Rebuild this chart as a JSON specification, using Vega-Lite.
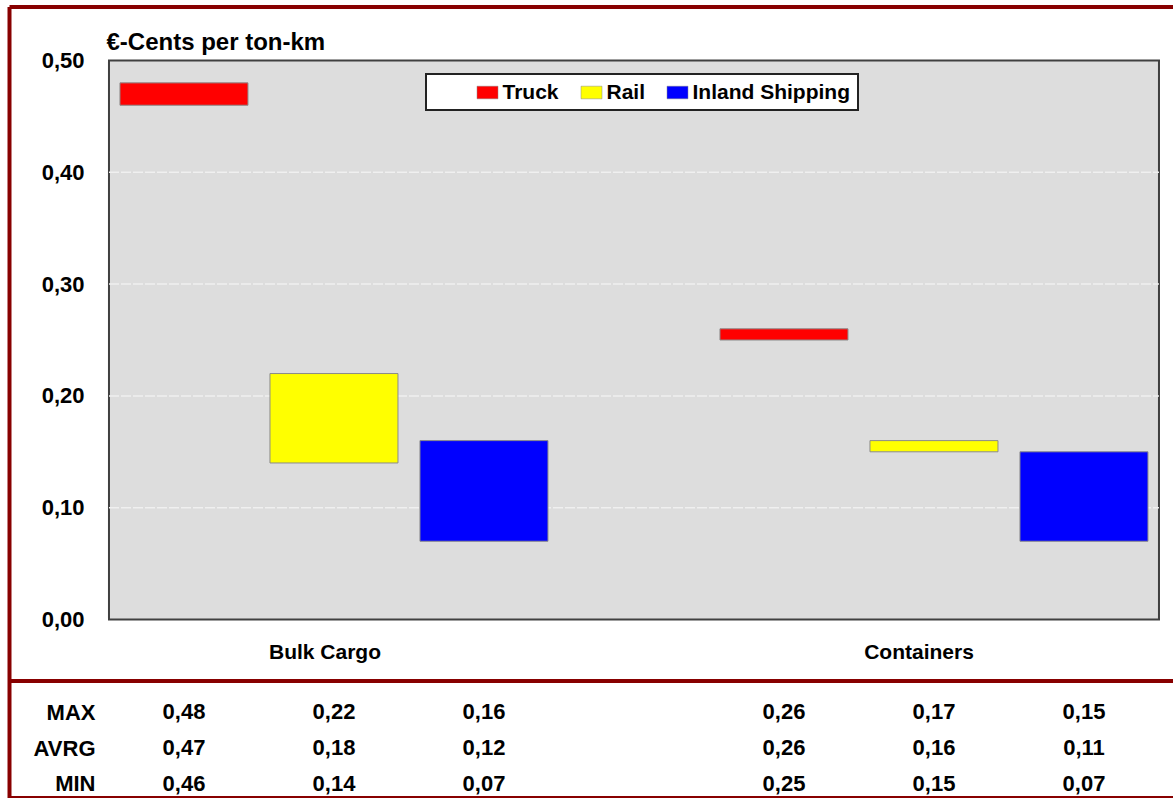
{
  "$schema": "https://vega.github.io/schema/vega-lite/v6.json",
  "background": "white",
  "padding": {"left": 9, "top": 6.5, "right": 0, "bottom": 0},
  "autosize": {"type": "pad"},
  "spacing": 0,
  "bounds": "flush",
  "config": {
    "view": {"stroke": null},
    "font": "Liberation Sans",
    "legend": {"strokeWidth": 2}
  },
  "datasets": {
    "costs": [
      {"cargo": "Bulk Cargo", "mode": "Truck", "bar_min": 0.46, "bar_max": 0.48, "MAX": 0.48, "AVRG": 0.47, "MIN": 0.46},
      {"cargo": "Bulk Cargo", "mode": "Rail", "bar_min": 0.14, "bar_max": 0.22, "MAX": 0.22, "AVRG": 0.18, "MIN": 0.14},
      {"cargo": "Bulk Cargo", "mode": "Inland Shipping", "bar_min": 0.07, "bar_max": 0.16, "MAX": 0.16, "AVRG": 0.12, "MIN": 0.07},
      {"cargo": "Containers", "mode": "Truck", "bar_min": 0.25, "bar_max": 0.26, "MAX": 0.26, "AVRG": 0.26, "MIN": 0.25},
      {"cargo": "Containers", "mode": "Rail", "bar_min": 0.15, "bar_max": 0.16, "MAX": 0.17, "AVRG": 0.16, "MIN": 0.15},
      {"cargo": "Containers", "mode": "Inland Shipping", "bar_min": 0.07, "bar_max": 0.15, "MAX": 0.15, "AVRG": 0.11, "MIN": 0.07}
    ]
  },
  "vconcat": [
    {
      "width": 1164,
      "height": 674,
      "resolve": {"axis": {"x": "independent"}},
      "layer": [
        {
          "data": {"values": [{}]},
          "mark": {"type": "rect", "fill": "#dddddd", "stroke": "#404040", "strokeWidth": 2},
          "encoding": {
            "x": {"datum": "Bulk Cargo", "type": "nominal", "bandPosition": 0,
              "scale": {"domain": ["Bulk Cargo", "Containers"], "paddingInner": 0.25, "paddingOuter": 0.095, "align": 0.877},
              "axis": {"orient": "top", "labels": false, "ticks": false, "title": null, "grid": false, "domainColor": "#880000", "domainWidth": 4}},
            "x2": {"datum": "Containers", "bandPosition": 1},
            "y": {"datum": 0, "type": "quantitative",
              "scale": {"domain": [-0.054562, 0.548301], "nice": false, "zero": false},
              "axis": {"values": [0, 0.1, 0.2, 0.3, 0.4, 0.5],
                "labelExpr": "replace(format(datum.value, '.2f'), '.', ',')",
                "labelFont": "Liberation Sans", "labelFontSize": 22, "labelFontWeight": "bold", "labelColor": "black",
                "labelPadding": -75, "ticks": false, "tickSize": 0, "grid": false,
                "domainColor": "#880000", "domainWidth": 4,
                "title": "€-Cents per ton-km", "titleAngle": 0, "titleAlign": "left", "titleBaseline": "alphabetic",
                "titleX": 97, "titleY": 43, "titleFont": "Liberation Sans", "titleFontSize": 24, "titleFontWeight": "bold", "titleColor": "black"}},
            "y2": {"datum": 0.5}
          }
        },
        {
          "data": {"values": [{"grid": 0.1}, {"grid": 0.2}, {"grid": 0.3}, {"grid": 0.4}]},
          "mark": {"type": "rule", "color": "#f0f0f0", "strokeWidth": 1.5, "strokeDash": [10, 2]},
          "encoding": {
            "x": {"datum": "Bulk Cargo", "type": "nominal", "bandPosition": 0,
              "scale": {"domain": ["Bulk Cargo", "Containers"], "paddingInner": 0.25, "paddingOuter": 0.095, "align": 0.877},
              "axis": null},
            "x2": {"datum": "Containers", "bandPosition": 1},
            "y": {"field": "grid", "type": "quantitative", "scale": {"domain": [-0.054562, 0.548301], "nice": false, "zero": false}}
          }
        },
        {
          "data": {"name": "costs"},
          "mark": {"type": "bar", "stroke": "#8a8a8a", "strokeWidth": 1},
          "encoding": {
            "x": {"field": "cargo", "type": "nominal",
              "scale": {"domain": ["Bulk Cargo", "Containers"], "paddingInner": 0.25, "paddingOuter": 0.095, "align": 0.877},
              "axis": {"orient": "bottom", "title": null, "ticks": false, "tickSize": 0, "grid": false,
                "domainColor": "#880000", "domainWidth": 4,
                "labelFont": "Liberation Sans", "labelFontSize": 21, "labelFontWeight": "bold", "labelColor": "black",
                "labelAngle": 0, "labelBaseline": "alphabetic", "labelPadding": -22,
                "labelOffset": {"condition": {"test": "datum.value === 'Bulk Cargo'", "value": -9}, "value": -15}}},
            "xOffset": {"field": "mode", "type": "nominal",
              "scale": {"domain": ["Truck", "Rail", "Inland Shipping"], "paddingInner": 0.14667, "paddingOuter": 0.07333}},
            "y": {"field": "bar_min", "type": "quantitative",
              "scale": {"domain": [-0.054562, 0.548301], "nice": false, "zero": false}},
            "y2": {"field": "bar_max"},
            "color": {"field": "mode", "type": "nominal",
              "scale": {"domain": ["Truck", "Rail", "Inland Shipping"], "range": ["#ff0000", "#ffff00", "#0000ff"]},
              "legend": {"orient": "none", "legendX": 417, "legendY": 67.5, "direction": "horizontal",
                "title": " ", "titleOrient": "left", "titlePadding": 43, "titleFontSize": 11,
                "padding": 7.5, "fillColor": "white", "strokeColor": "#222222",
                "symbolType": "M-1,-0.6H1V0.6H-1Z", "symbolSize": 441, "symbolStrokeWidth": 0.5, "symbolStrokeColor": "#888888",
                "labelFont": "Liberation Sans", "labelFontSize": 21, "labelFontWeight": "bold", "labelColor": "black",
                "labelOffset": 4, "columnPadding": 20, "labelLimit": 400}}
          }
        }
      ]
    },
    {
      "width": 1164,
      "height": 117,
      "data": {"name": "costs"},
      "transform": [{"fold": ["MAX", "AVRG", "MIN"], "as": ["stat", "value"]}],
      "mark": {"type": "text", "font": "Liberation Sans", "fontSize": 22, "fontWeight": "bold", "color": "black",
        "align": "center", "baseline": "middle",
        "text": {"expr": "replace(format(datum.value, '.2f'), '.', ',')"}},
      "encoding": {
        "x": {"field": "cargo", "type": "nominal",
          "scale": {"domain": ["Bulk Cargo", "Containers"], "paddingInner": 0.25, "paddingOuter": 0.095, "align": 0.877},
          "axis": {"orient": "bottom", "labels": false, "ticks": false, "title": null, "grid": false, "domainColor": "#880000", "domainWidth": 4}},
        "xOffset": {"field": "mode", "type": "nominal",
          "scale": {"domain": ["Truck", "Rail", "Inland Shipping"], "paddingInner": 0.14667, "paddingOuter": 0.07333}},
        "y": {"field": "stat", "type": "ordinal",
          "scale": {"type": "point", "domain": ["MAX", "AVRG", "MIN"], "padding": 0.636, "align": 0.703},
          "axis": {"orient": "left", "title": null, "ticks": false, "tickSize": 0, "grid": false,
            "labelPadding": -86, "labelFont": "Liberation Sans", "labelFontSize": 22, "labelFontWeight": "bold", "labelColor": "black",
            "domainColor": "#880000", "domainWidth": 4}}
      }
    }
  ]
}
